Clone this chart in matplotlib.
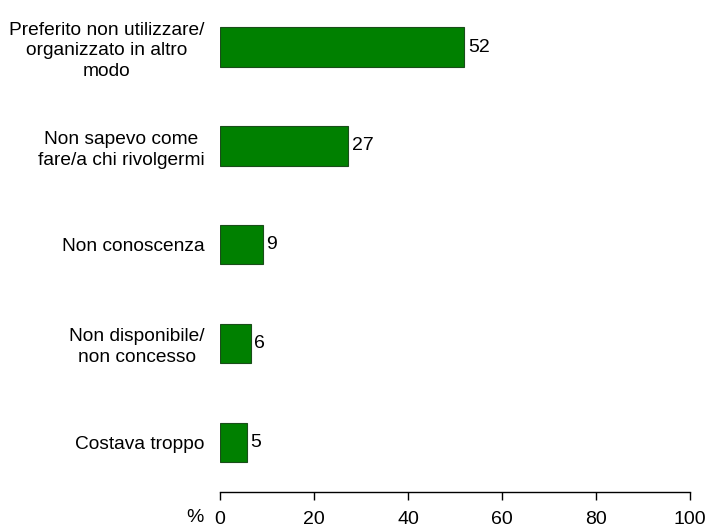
import matplotlib.pyplot as plt

plt.rcParams['font.family'] = ['Liberation Sans', 'DejaVu Sans']

# Dati
categorie = ['Preferito non utilizzare/\norganizzato in altro\nmodo',
             'Non sapevo come\nfare/a chi rivolgermi',
             'Non conoscenza',
             'Non disponibile/\nnon concesso',
             'Costava troppo']
valori = [52, 27.2, 9.1, 6.5, 5.7]
etichette = ['52', '27', '9', '6', '5']
tick_x = [0, 20, 40, 60, 80, 100]

fig = plt.figure(figsize=(7.09, 5.28), dpi=100)
ax = fig.add_axes([220 / 709, 1 - 491.7 / 528, 470 / 709, (491.7 + 2.4) / 528])

pos = list(range(len(categorie)))
bars = ax.barh(pos, valori, height=0.4, color='#008000', edgecolor='#1a4d1a', linewidth=0.8)

for bar, lab in zip(bars, etichette):
    ax.text(bar.get_width() + 0.8, bar.get_y() + bar.get_height() / 2, lab,
            ha='left', va='center', fontsize=14)

ax.set_xlim(0, 100)
ax.set_ylim(4.5, -0.5)
ax.set_xticks(tick_x)
ax.set_xticklabels([str(t) for t in tick_x], fontsize=14)
ax.set_yticks(pos)
ax.set_yticklabels(categorie, fontsize=13.8)
for lab in ax.get_yticklabels():
    lab.set_multialignment('center')
    lab.set_linespacing(1.3)

for s in ['top', 'right', 'left']:
    ax.spines[s].set_visible(False)
ax.spines['bottom'].set_linewidth(1.0)
ax.tick_params(axis='y', length=0, pad=11)
ax.tick_params(axis='x', length=6, width=1.0, pad=8)

fig.text(195 / 709, 1 - 517 / 528, '%', ha='center', va='center', fontsize=14)

plt.savefig('out.png', dpi=100)
